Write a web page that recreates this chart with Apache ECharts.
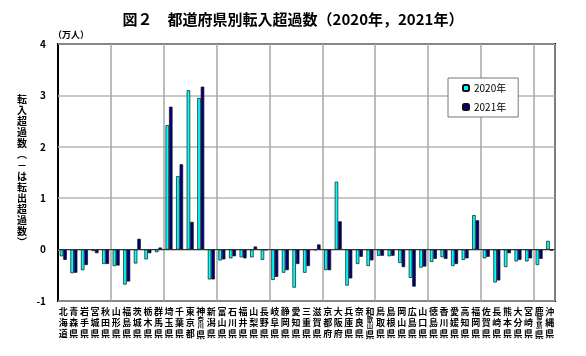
<!DOCTYPE html>
<html><head><meta charset="utf-8">
<script src="https://cdn.jsdelivr.net/npm/echarts@6/dist/echarts.min.js"></script>
<style>html,body{margin:0;padding:0;background:#fff}#c{width:586px;height:356px}</style>
</head><body><div id="c"></div>
<script>
const prefectures = ['北海道','青森県','岩手県','宮城県','秋田県','山形県','福島県','茨城県','栃木県','群馬県','埼玉県','千葉県','東京都','神奈川県','新潟県','富山県','石川県','福井県','山梨県','長野県','岐阜県','静岡県','愛知県','三重県','滋賀県','京都府','大阪府','兵庫県','奈良県','和歌山県','鳥取県','島根県','岡山県','広島県','山口県','徳島県','香川県','愛媛県','高知県','福岡県','佐賀県','長崎県','熊本県','大分県','宮崎県','鹿児島県','沖縄県'];
const values2020 = [-0.13,-0.46,-0.40,-0.03,-0.28,-0.32,-0.68,-0.27,-0.19,-0.05,2.42,1.43,3.10,2.95,-0.58,-0.21,-0.17,-0.15,-0.15,-0.20,-0.59,-0.45,-0.74,-0.45,-0.01,-0.40,1.32,-0.70,-0.28,-0.32,-0.12,-0.13,-0.26,-0.55,-0.35,-0.24,-0.15,-0.32,-0.20,0.67,-0.17,-0.64,-0.34,-0.23,-0.23,-0.30,0.17];
const values2021 = [-0.20,-0.45,-0.30,-0.07,-0.28,-0.31,-0.62,0.21,-0.07,0.04,2.78,1.66,0.54,3.17,-0.58,-0.19,-0.13,-0.17,0.06,-0.01,-0.53,-0.40,-0.28,-0.32,0.10,-0.40,0.55,-0.56,-0.14,-0.21,-0.12,-0.12,-0.34,-0.72,-0.33,-0.18,-0.18,-0.28,-0.17,0.57,-0.14,-0.60,-0.07,-0.20,-0.17,-0.18,-0.02];
const seriesNames = ['2020年','2021年'];
const yTicks = {min:-1, max:4, interval:1};
const groupSize = 5; // vertical gridline every 5 prefectures
const titleText = '図２　都道府県別転入超過数（2020年，2021年）';
const unitText = '（万人）';
const yNameChars = ['転','入','超','過','数','︵','－','は','転','出','超','過','数','︶'];

const FONT = '"Noto Sans CJK JP", sans-serif';
const chart = echarts.init(document.getElementById('c'));
function fmtLabel(name){
  const ch = name.split('');
  if (ch.length === 4) return '{a|'+ch[0]+'}\n{b|'+ch[1]+'}\n{b|'+ch[2]+'}\n{a|'+ch[3]+'}';
  return ch.join('\n');
}
const barStyle = (c) => ({color:c, borderColor:'#111', borderWidth:0.7});
chart.setOption({
  animation:false,
  backgroundColor:'#fff',
  textStyle:{fontFamily:FONT},
  title:{text:titleText, left:'center', top:7, textStyle:{fontFamily:FONT, fontSize:15, fontWeight:'bold', color:'#000'}},
  legend:{
    data:seriesNames, orient:'vertical', left:448, top:78,
    itemWidth:6, itemHeight:6, itemGap:9, itemTextGap:2,
    padding:[5,12,5,14], borderColor:'#777', borderWidth:1, backgroundColor:'#fff',
    textStyle:{fontFamily:FONT, fontSize:10, color:'#000'}
  },
  grid:{left:58, right:31, top:44, bottom:55, show:true, borderColor:'#000', borderWidth:2, backgroundColor:'transparent'},
  xAxis:[{
    type:'category', data:prefectures,
    axisLine:{show:false}, axisTick:{show:false},
    splitLine:{show:true, interval:(i)=> i > 0 && i % groupSize === 0, lineStyle:{color:'#a6a6a6', width:1.5}},
    axisLabel:{interval:0, margin:5, fontFamily:FONT, fontSize:9, lineHeight:11, color:'#000', fontWeight:'bold',
      formatter:fmtLabel,
      rich:{a:{fontFamily:FONT, fontSize:9, lineHeight:11, fontWeight:'bold', color:'#000'},
            b:{fontFamily:FONT, fontSize:6.5, lineHeight:6, fontWeight:'bold', color:'#000'}}}
  }],
  yAxis:{
    type:'value', min:yTicks.min, max:yTicks.max, interval:yTicks.interval,
    axisLine:{show:false}, axisTick:{show:false},
    splitLine:{show:true, lineStyle:{color:'#b5b5b5', width:1.5}},
    axisLabel:{margin:12, fontFamily:FONT, fontSize:10, fontWeight:'bold', color:'#000'}
  },
  graphic:[
    {type:'text', left:53, top:30, style:{text:unitText, font:'bold 9px '+FONT, fill:'#000'}},
    {type:'text', left:17, top:94, style:{text:yNameChars.join('\n'), font:'bold 10px '+FONT, lineHeight:11, fill:'#000', align:'center'}}
  ],
  series:[
    {name:seriesNames[0], type:'bar', data:values2020, itemStyle:barStyle('#00ffff'), barGap:'0%', barCategoryGap:'34%',
     markLine:{silent:true, symbol:'none', label:{show:false}, lineStyle:{color:'#333', width:1, type:'solid'}, data:[{yAxis:0}]}},
    {name:seriesNames[1], type:'bar', data:values2021, itemStyle:barStyle('#000080'), barGap:'0%', barCategoryGap:'34%'}
  ]
});
</script></body></html>
